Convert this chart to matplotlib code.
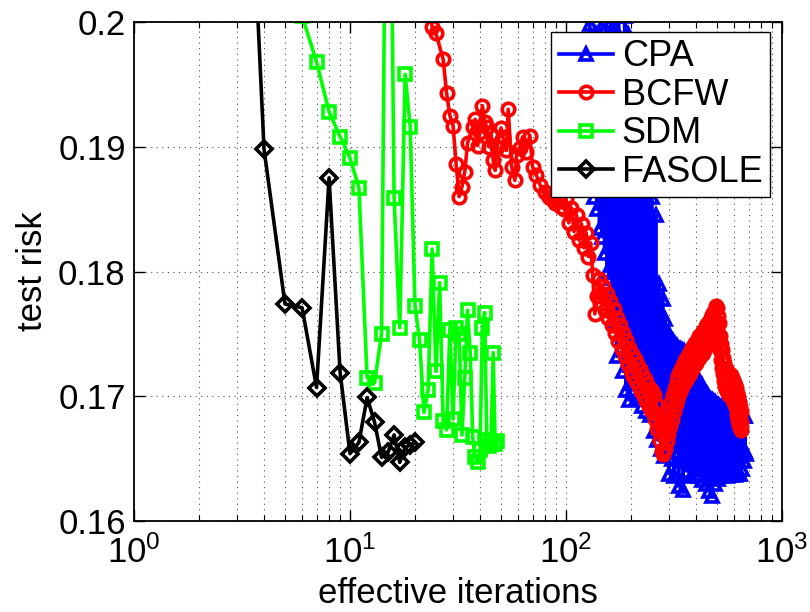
import numpy as np
import matplotlib
matplotlib.use('Agg')
import matplotlib.pyplot as plt
from matplotlib.ticker import LogLocator, NullFormatter

# ---------------- data ----------------
fasole_x = [3, 4, 5, 6, 7, 8, 9, 10, 11, 12, 13, 14, 15, 16, 17, 18, 19, 20]
fasole_y = [0.2360, 0.1898, 0.1774, 0.1771, 0.1707, 0.1875, 0.1719, 0.1654,
            0.1663, 0.1699, 0.1679, 0.1651, 0.1655, 0.1669, 0.1647, 0.1659,
            0.1661, 0.1663]

sdm_x = list(range(5, 49))
sdm_y = [0.2150, 0.2005, 0.1968, 0.1928, 0.1908, 0.1891, 0.1867, 0.1715,
         0.1711, 0.1750, 0.2350, 0.1859, 0.1755, 0.1958, 0.1916, 0.1772,
         0.1745, 0.1687, 0.1705, 0.1818, 0.1720, 0.1791, 0.1680, 0.1673,
         0.1753, 0.1682, 0.1755, 0.1750, 0.1669, 0.1715, 0.1769, 0.1735,
         0.1667, 0.1651, 0.1647, 0.1657, 0.1755, 0.1767, 0.1665, 0.1660,
         0.1663, 0.1735, 0.1662, 0.1664]

# BCFW: sparse early part
bcfw_x_early = [23, 24, 25, 27, 28, 29, 30, 31, 32, 33, 34, 35, 37, 38, 39, 40,
                41, 42, 43, 44, 45, 46, 47, 48, 50, 51, 53, 54, 56, 58, 59, 61,
                63, 65, 68, 70, 73, 76, 80, 83, 86, 89, 92, 95, 98]
bcfw_y_early = [0.2040, 0.1996, 0.1991, 0.1970, 0.1943, 0.1925, 0.1917, 0.1886,
                0.1860, 0.1868, 0.1880, 0.1903, 0.1916, 0.1922, 0.1901, 0.1912,
                0.1933, 0.1920, 0.1916, 0.1900, 0.1910, 0.1889, 0.1881, 0.1900,
                0.1915, 0.1908, 0.1897, 0.1930, 0.1884, 0.1873, 0.1893, 0.1899,
                0.1908, 0.1896, 0.1909, 0.1884, 0.1877, 0.1869, 0.1864, 0.1860,
                0.1858, 0.1855, 0.1857, 0.1852, 0.1850]
# BCFW: dense part, iterations 100, 103, ..., 649
bcfw_x_dense = list(range(100, 650, 3))
bcfw_y_dense = [
    0.1858, 0.1839, 0.1851, 0.1832, 0.1845, 0.1825, 0.1838, 0.1819, 0.1831, 0.1812,
    0.1823, 0.1797, 0.1766, 0.1780, 0.1794, 0.1775, 0.1788, 0.1769, 0.1782, 0.1763,
    0.1776, 0.1757, 0.1770, 0.1751, 0.1763, 0.1744, 0.1757, 0.1738, 0.1751, 0.1732,
    0.1745, 0.1726, 0.1739, 0.1720, 0.1734, 0.1716, 0.1730, 0.1712, 0.1726, 0.1708,
    0.1722, 0.1704, 0.1718, 0.1700, 0.1714, 0.1696, 0.1710, 0.1692, 0.1706, 0.1689,
    0.1704, 0.1687, 0.1701, 0.1682, 0.1694, 0.1674, 0.1685, 0.1664, 0.1675, 0.1656,
    0.1654, 0.1671, 0.1658, 0.1677, 0.1664, 0.1683, 0.1670, 0.1689, 0.1676, 0.1695,
    0.1682, 0.1701, 0.1688, 0.1707, 0.1694, 0.1712, 0.1698, 0.1716, 0.1702, 0.1720,
    0.1706, 0.1723, 0.1708, 0.1725, 0.1711, 0.1728, 0.1713, 0.1730, 0.1716, 0.1732,
    0.1717, 0.1734, 0.1719, 0.1737, 0.1722, 0.1739, 0.1724, 0.1741, 0.1726, 0.1743,
    0.1727, 0.1744, 0.1729, 0.1746, 0.1731, 0.1748, 0.1733, 0.1749, 0.1734, 0.1751,
    0.1735, 0.1752, 0.1737, 0.1754, 0.1739, 0.1756, 0.1741, 0.1758, 0.1743, 0.1759,
    0.1744, 0.1761, 0.1746, 0.1763, 0.1748, 0.1765, 0.1751, 0.1767, 0.1753, 0.1769,
    0.1755, 0.1772, 0.1757, 0.1771, 0.1752, 0.1764, 0.1744, 0.1759, 0.1737, 0.1748,
    0.1729, 0.1742, 0.1723, 0.1737, 0.1718, 0.1731, 0.1712, 0.1727, 0.1708, 0.1722,
    0.1706, 0.1722, 0.1704, 0.1720, 0.1703, 0.1719, 0.1701, 0.1718, 0.1701, 0.1717,
    0.1701, 0.1717, 0.1699, 0.1715, 0.1697, 0.1713, 0.1695, 0.1711, 0.1693, 0.1709,
    0.1693, 0.1707, 0.1689, 0.1703, 0.1685, 0.1699, 0.1681, 0.1695, 0.1677, 0.1691,
    0.1675, 0.1687, 0.1673, 0.1679]

# CPA: upper (oscillating) part
cpa_x_a = [129, 131, 133, 135, 137, 139, 141, 143, 145, 147, 149, 151, 153, 155,
           157, 159, 161, 163, 165, 167, 169, 172, 175, 178, 181, 184, 187, 190,
           193, 196, 199, 202, 206, 210, 214, 218, 222, 226, 230, 235, 240, 245,
           250, 255, 260, 265, 270, 275]
cpa_y_a = [0.1998, 0.1870, 0.1985, 0.1860, 0.1990, 0.1850, 0.1975, 0.1835,
           0.1995, 0.1828, 0.1985, 0.1815, 0.2008, 0.1800, 0.1990, 0.1795,
           0.2015, 0.1780, 0.2005, 0.1760, 0.1995, 0.1732, 0.2010, 0.1750,
           0.1985, 0.1720, 0.2005, 0.1705, 0.1990, 0.1697, 0.1960, 0.1705,
           0.1945, 0.1698, 0.1925, 0.1700, 0.1905, 0.1692, 0.1895, 0.1688,
           0.1880, 0.1685, 0.1860, 0.1672, 0.1845, 0.1665, 0.1790, 0.1658]
# CPA: lower dense part, iterations 280, 284, ..., 680
cpa_x_b = list(range(280, 681, 4))
cpa_y_b = [
    0.1778, 0.1652, 0.1762, 0.1660, 0.1750, 0.1638, 0.1748, 0.1650, 0.1744, 0.1636,
    0.1742, 0.1655, 0.1740, 0.1628, 0.1738, 0.1648, 0.1737, 0.1625, 0.1736, 0.1650,
    0.1735, 0.1640, 0.1730, 0.1655, 0.1727, 0.1636, 0.1724, 0.1652, 0.1720, 0.1638,
    0.1717, 0.1650, 0.1714, 0.1636, 0.1711, 0.1648, 0.1709, 0.1633, 0.1706, 0.1650,
    0.1704, 0.1630, 0.1702, 0.1645, 0.1700, 0.1624, 0.1698, 0.1640, 0.1697, 0.1620,
    0.1696, 0.1642, 0.1695, 0.1630, 0.1694, 0.1646, 0.1693, 0.1634, 0.1692, 0.1648,
    0.1691, 0.1636, 0.1691, 0.1650, 0.1690, 0.1638, 0.1690, 0.1652, 0.1690, 0.1636,
    0.1689, 0.1650, 0.1689, 0.1637, 0.1688, 0.1652, 0.1688, 0.1638, 0.1688, 0.1650,
    0.1687, 0.1637, 0.1687, 0.1652, 0.1686, 0.1638, 0.1686, 0.1650, 0.1686, 0.1638,
    0.1685, 0.1652, 0.1685, 0.1642, 0.1685, 0.1655, 0.1684, 0.1648, 0.1684, 0.1656,
    0.1654]

y_ticks = [0.16, 0.17, 0.18, 0.19, 0.2]
y_tick_labels = ['0.16', '0.17', '0.18', '0.19', '0.2']

bcfw_x = bcfw_x_early + bcfw_x_dense
bcfw_y = bcfw_y_early + bcfw_y_dense
cpa_x = cpa_x_a + cpa_x_b
cpa_y = cpa_y_a + cpa_y_b

# ---------------- style ----------------
plt.rcParams['font.family'] = ['Liberation Sans', 'DejaVu Sans']
plt.rcParams['mathtext.fontset'] = 'custom'
plt.rcParams['mathtext.rm'] = 'Liberation Sans'
plt.rcParams['mathtext.it'] = 'Liberation Sans:italic'
plt.rcParams['mathtext.bf'] = 'Liberation Sans:bold'

fig = plt.figure(figsize=(8.1, 6.12), dpi=100)
ax = fig.add_axes([134 / 810, 91 / 612, 648 / 810, 499 / 612])

lw = 2.6
mew = 2.6
ax.plot(cpa_x, cpa_y, color=(0, 0, 1), lw=lw, marker='^', ms=9, mew=mew,
        mfc='none', label='CPA')
ax.plot(bcfw_x, bcfw_y, color=(1, 0, 0), lw=lw, marker='o', ms=9, mew=mew,
        mfc='none', label='BCFW')
ax.plot(sdm_x, sdm_y, color=(0, 1, 0), lw=lw, marker='s', ms=8, mew=mew,
        mfc='none', label='SDM')
ax.plot(fasole_x, fasole_y, color='k', lw=lw, marker='D', ms=8, mew=mew,
        mfc='none', label='FASOLE')

ax.set_xscale('log')
ax.set_xlim(1, 1000)
ax.set_ylim(0.16, 0.2)
ax.set_yticks(y_ticks)
ax.set_yticklabels(y_tick_labels)
ax.xaxis.set_major_locator(LogLocator(base=10, numticks=10))
ax.xaxis.set_minor_locator(LogLocator(base=10, subs=np.arange(2, 10), numticks=10))
ax.xaxis.set_minor_formatter(NullFormatter())

ax.tick_params(which='both', direction='in', top=True, right=True)
ax.tick_params(which='major', length=8, width=1, labelsize=25)
ax.tick_params(which='minor', length=4, width=0.8)
ax.tick_params(axis='x', which='major', pad=10)
ax.tick_params(axis='y', which='major', pad=6)

grid_ls = (0, (1, 4))
ax.grid(True, which='major', ls=grid_ls, color='0.3', lw=0.8)
ax.grid(True, which='minor', axis='x', ls=grid_ls, color='0.3', lw=0.8)
ax.set_axisbelow(True)

for s in ax.spines.values():
    s.set_linewidth(1.3)

ax.set_xlabel('effective iterations', fontsize=25)
ax.xaxis.set_label_coords(0.5, -0.165)
ax.xaxis.label.set_va('baseline')
ax.set_ylabel('test risk', fontsize=25)
ax.yaxis.set_label_coords(-0.131, 0.5)

leg = ax.legend(loc='upper right', bbox_to_anchor=(0.981, 0.980), fontsize=26,
                handlelength=1.5, handletextpad=0.25, labelspacing=0.1,
                borderpad=0.2, borderaxespad=0, numpoints=1, fancybox=False,
                framealpha=1, edgecolor='k')
leg.get_frame().set_linewidth(1.0)

fig.savefig('out.png', dpi=100)
